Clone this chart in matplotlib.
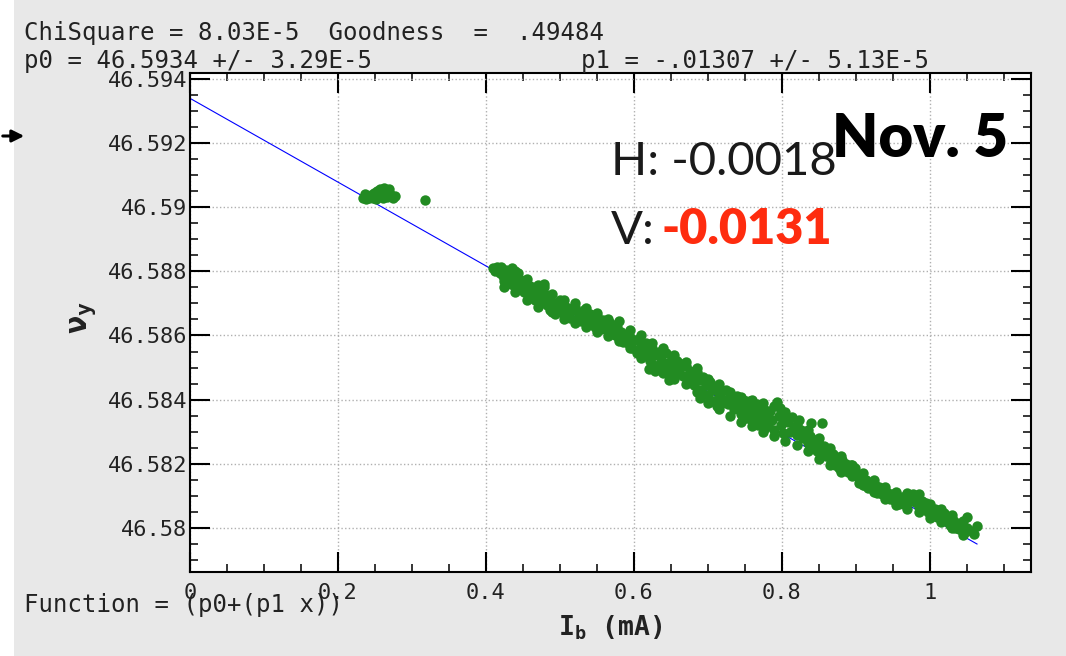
import numpy as np
import matplotlib.pyplot as plt
from matplotlib.ticker import MultipleLocator, FuncFormatter
from matplotlib.patches import Rectangle, FancyArrowPatch

plt.rcParams['font.family'] = ['DejaVu Sans Mono']
plt.rcParams['mathtext.fontset'] = 'custom'
plt.rcParams['mathtext.rm'] = 'DejaVu Sans Mono:bold'
plt.rcParams['mathtext.it'] = 'DejaVu Sans Mono:bold'
plt.rcParams['mathtext.bf'] = 'DejaVu Sans Mono:bold'

W, H = 1066, 656

# fit result  nu = p0 + p1*I
p0 = 46.5934
p1 = -0.01307
fit_start, fit_end = 0.0, 1.064

# low current cluster + one stray point
cluster_i = [0.234, 0.236, 0.238, 0.240, 0.242, 0.245, 0.247, 0.249, 0.251, 0.253,
             0.255, 0.257, 0.259, 0.261, 0.262, 0.263, 0.265, 0.267, 0.269, 0.271,
             0.274, 0.277, 0.318]
cluster_nu = [46.59030, 46.59040, 46.59025, 46.59035, 46.59028, 46.59038, 46.59030, 46.59045, 46.59026, 46.59050,
              46.59035, 46.59058, 46.59042, 46.59028, 46.59060, 46.59055, 46.59047, 46.59032, 46.59058, 46.59040,
              46.59030, 46.59036, 46.59022]

band_i = [
    0.410, 0.413, 0.416, 0.419, 0.421, 0.423, 0.425, 0.427, 0.429, 0.431, 0.433, 0.435, 0.437, 0.439, 0.441, 0.443, 0.445, 0.447,
    0.450, 0.452, 0.454, 0.456, 0.458, 0.460, 0.462, 0.464, 0.466, 0.468, 0.470, 0.472, 0.474, 0.476, 0.479, 0.481, 0.483, 0.485,
    0.487, 0.489, 0.492, 0.494, 0.496, 0.498, 0.500,
    0.502, 0.505, 0.508, 0.511, 0.514, 0.517, 0.520, 0.523, 0.526, 0.529, 0.532, 0.535, 0.538, 0.541, 0.544, 0.547, 0.550,
    0.553, 0.556, 0.559, 0.562, 0.565, 0.568, 0.571, 0.574, 0.577, 0.580, 0.583, 0.586,
    0.589, 0.592, 0.595, 0.598, 0.601, 0.604, 0.607, 0.610, 0.613, 0.616, 0.619, 0.621, 0.622, 0.625, 0.627,
    0.628, 0.631, 0.634, 0.637, 0.640, 0.643, 0.646, 0.648, 0.649, 0.655,
    0.652, 0.656, 0.658, 0.661, 0.664, 0.667, 0.670, 0.673, 0.676, 0.679, 0.682, 0.685, 0.688, 0.689, 0.691,
    0.694, 0.697, 0.700, 0.701, 0.703, 0.706, 0.709,
    0.712, 0.713, 0.715, 0.718, 0.719, 0.721, 0.724, 0.727, 0.730, 0.733, 0.736, 0.739, 0.742, 0.745, 0.748,
    0.751, 0.754, 0.757, 0.760, 0.763, 0.766, 0.769, 0.772, 0.775, 0.778, 0.781,
    0.744, 0.747, 0.752, 0.756, 0.759, 0.762, 0.765, 0.768, 0.771, 0.774, 0.777, 0.780,
    0.784, 0.787, 0.790, 0.794, 0.796, 0.799, 0.802, 0.805, 0.808, 0.811, 0.814, 0.817, 0.820, 0.823, 0.826, 0.829,
    0.797, 0.800, 0.840, 0.854,
    0.832, 0.835, 0.838, 0.842, 0.845, 0.848, 0.851, 0.854, 0.857, 0.860, 0.863, 0.866, 0.869, 0.872, 0.875,
    0.878, 0.881, 0.884, 0.887, 0.890, 0.893, 0.896, 0.899,
    0.902, 0.905, 0.908, 0.911, 0.914, 0.917, 0.920, 0.923, 0.926, 0.929, 0.932, 0.935, 0.938, 0.941, 0.944,
    0.947, 0.950, 0.953, 0.956, 0.959,
    0.962, 0.965, 0.968, 0.971, 0.974, 0.977, 0.980, 0.983, 0.986, 0.989, 0.992, 0.995, 0.998, 1.001, 1.004,
    1.007, 1.010, 1.013, 1.016, 1.019, 1.022, 1.025, 1.028, 1.031, 1.034, 1.037, 1.040, 1.043, 1.046, 1.050,
    1.051, 1.056, 1.060, 1.064,
]
band_nu = [
    46.58812, 46.58800, 46.58808, 46.58795, 46.58815, 46.58785, 46.58770, 46.58805, 46.58760, 46.58790, 46.58775, 46.58810, 46.58758, 46.58780, 46.58765, 46.58795, 46.58748, 46.58772,
    46.58760, 46.58735, 46.58768, 46.58745, 46.58720, 46.58755, 46.58728, 46.58740, 46.58710, 46.58750, 46.58722, 46.58700, 46.58735, 46.58712, 46.58752, 46.58725, 46.58695, 46.58715,
    46.58680, 46.58705, 46.58690, 46.58668, 46.58700, 46.58680, 46.58710,
    46.58672, 46.58695, 46.58660, 46.58685, 46.58655, 46.58678, 46.58690, 46.58650, 46.58670, 46.58645, 46.58680, 46.58660, 46.58640, 46.58668, 46.58650, 46.58628, 46.58660,
    46.58640, 46.58620, 46.58648, 46.58630, 46.58612, 46.58638, 46.58618, 46.58600, 46.58628, 46.58590, 46.58612, 46.58580,
    46.58600, 46.58575, 46.58595, 46.58560, 46.58585, 46.58545, 46.58590, 46.58565, 46.58535, 46.58575, 46.58550, 46.58495, 46.58520, 46.58560, 46.58540,
    46.58490, 46.58505, 46.58550, 46.58525, 46.58495, 46.58545, 46.58515, 46.58460, 46.58485, 46.58470,
    46.58530, 46.58500, 46.58520, 46.58490, 46.58510, 46.58475, 46.58505, 46.58455, 46.58490, 46.58470, 46.58445, 46.58485, 46.58460, 46.58406, 46.58430,
    46.58470, 46.58445, 46.58415, 46.58392, 46.58455, 46.58430, 46.58395,
    46.58380, 46.58440, 46.58410, 46.58425, 46.58388, 46.58400, 46.58430, 46.58385, 46.58415, 46.58395, 46.58370, 46.58410, 46.58385, 46.58355, 46.58400,
    46.58375, 46.58345, 46.58395, 46.58365, 46.58340, 46.58385, 46.58355, 46.58330, 46.58375, 46.58350, 46.58320,
    46.58380, 46.58340, 46.58395, 46.58365, 46.58335, 46.58380, 46.58350, 46.58320, 46.58370, 46.58345, 46.58310, 46.58365,
    46.58365, 46.58335, 46.58305, 46.58394, 46.58350, 46.58320, 46.58295, 46.58360, 46.58330, 46.58300, 46.58345, 46.58315, 46.58290, 46.58335, 46.58305, 46.58280,
    46.58375, 46.58355, 46.58328, 46.58328,
    46.58300, 46.58265, 46.58285, 46.58250, 46.58275, 46.58240, 46.58262, 46.58232, 46.58255, 46.58225, 46.58245, 46.58205, 46.58230, 46.58195, 46.58215,
    46.58185, 46.58210, 46.58190, 46.58200, 46.58175, 46.58195, 46.58170, 46.58185,
    46.58160, 46.58140, 46.58155, 46.58135, 46.58150, 46.58125, 46.58140, 46.58120, 46.58135, 46.58110, 46.58128, 46.58105, 46.58120, 46.58095, 46.58110,
    46.58090, 46.58105, 46.58085, 46.58100, 46.58075,
    46.58095, 46.58075, 46.58072, 46.58100, 46.58085, 46.58105, 46.58080, 46.58098, 46.58065, 46.58085, 46.58060, 46.58078, 46.58050, 46.58065, 46.58040,
    46.58058, 46.58035, 46.58050, 46.58030, 46.58045, 46.58020, 46.58035, 46.58010, 46.58025, 46.58000, 46.58015, 46.57995, 46.58008, 46.57985, 46.58000,
    46.58034, 46.57990, 46.57980, 46.58006,
]

# points along the upper and lower rim of the band
upper_i = [0.415, 0.440, 0.455, 0.470, 0.479, 0.490, 0.505, 0.520, 0.535, 0.550, 0.565, 0.580, 0.595,
           0.610, 0.625, 0.640, 0.655, 0.670, 0.685, 0.700, 0.715, 0.730, 0.745, 0.760, 0.775, 0.790,
           0.805, 0.820, 0.835, 0.850, 0.865, 0.880, 0.895, 0.910, 0.925, 0.940, 0.955, 0.970, 0.985,
           1.000, 1.015, 1.030, 1.045]
upper_nu = [46.58815, 46.58800, 46.58775, 46.58758, 46.58760, 46.58728, 46.58712, 46.58700, 46.58685, 46.58670, 46.58652, 46.58645, 46.58618,
            46.58600, 46.58578, 46.58560, 46.58540, 46.58518, 46.58498, 46.58465, 46.58448, 46.58425, 46.58408, 46.58400, 46.58390, 46.58380,
            46.58335, 46.58320, 46.58305, 46.58280, 46.58250, 46.58225, 46.58195, 46.58170, 46.58150, 46.58128, 46.58112, 46.58108, 46.58105,
            46.58075, 46.58060, 46.58040, 46.58020]
lower_i = [0.424, 0.440, 0.455, 0.470, 0.490, 0.505, 0.520, 0.535, 0.550, 0.565, 0.580, 0.595,
           0.610, 0.625, 0.640, 0.655, 0.670, 0.685, 0.700, 0.715, 0.730, 0.745, 0.760, 0.775, 0.790,
           0.805, 0.820, 0.835, 0.850, 0.865, 0.880, 0.895, 0.910, 0.925, 0.940, 0.955, 0.970, 0.985,
           1.000, 1.015, 1.030, 1.045]
lower_nu = [46.58752, 46.58735, 46.58712, 46.58690, 46.58672, 46.58650, 46.58640, 46.58628, 46.58612, 46.58598, 46.58582, 46.58560,
            46.58530, 46.58510, 46.58482, 46.58465, 46.58448, 46.58425, 46.58388, 46.58372, 46.58350, 46.58330, 46.58318, 46.58300, 46.58285,
            46.58270, 46.58258, 46.58240, 46.58215, 46.58195, 46.58175, 46.58160, 46.58135, 46.58112, 46.58090, 46.58072, 46.58060, 46.58048,
            46.58030, 46.58018, 46.57998, 46.57978]

x_ticks = [0, 0.2, 0.4, 0.6, 0.8, 1.0]
y_ticks = [46.58, 46.582, 46.584, 46.586, 46.588, 46.59, 46.592, 46.594]


def fx(px):
    return px / W


def fy(py):
    return 1 - py / H


fig = plt.figure(figsize=(W / 100, H / 100), dpi=100, facecolor='#e8e8e8')
fig.patches.append(Rectangle((0, 0), fx(14), 1, transform=fig.transFigure,
                             facecolor='white', edgecolor='none', zorder=0))

ax = fig.add_axes([fx(190), fy(572), fx(1031) - fx(190), fy(73) - fy(572)])
ax.set_facecolor('white')

green = '#228b22'
xf = np.array([fit_start, fit_end])
ax.plot(xf, p0 + p1 * xf, color='blue', lw=0.8, zorder=2)
for xs, ys in [(cluster_i, cluster_nu), (band_i, band_nu), (upper_i, upper_nu), (lower_i, lower_nu)]:
    ax.plot(xs, ys, 'o', color=green, ms=7.5, mew=0, zorder=3)

ax.set_xlim(0, 1.137)
ax.set_ylim(46.57862, 46.59419)
ax.set_xticks(x_ticks)
ax.set_yticks(y_ticks)
ax.xaxis.set_minor_locator(MultipleLocator(0.05))
ax.yaxis.set_minor_locator(MultipleLocator(0.0005))
ax.xaxis.set_major_formatter(FuncFormatter(lambda v, p: f'{v:g}'))
ax.yaxis.set_major_formatter(FuncFormatter(lambda v, p: f'{v:.3f}'.rstrip('0')))

ax.grid(True, which='major', linestyle=':', color='#b0b0b0', lw=1)
ax.set_axisbelow(True)
ax.tick_params(which='major', direction='in', length=14.5, width=1.5,
               top=True, right=True, labelsize=15.8, colors='black', labelcolor='#222222')
ax.tick_params(which='minor', direction='in', length=5.5, width=1.1, top=True, right=True)
ax.tick_params(axis='y', pad=2)
ax.tick_params(axis='x', pad=8)
for s in ax.spines.values():
    s.set_linewidth(1.5)

# fit info text
mono = dict(family='DejaVu Sans Mono', size=17.3, color='#222222', va='baseline')
fig.text(fx(24), fy(40), 'ChiSquare = 8.03E-5  Goodness  =  .49484', **mono)
fig.text(fx(24), fy(68), 'p0 = 46.5934 +/- 3.29E-5', **mono)
fig.text(fx(581), fy(68), 'p1 = -.01307 +/- 5.13E-5', **mono)
fig.text(fx(24), fy(612), 'Function = (p0+(p1 x))', **mono)

fig.text(fx(610), fy(635), r'$\mathrm{I_b}$ (mA)', ha='center', va='baseline',
         size=19, weight='bold', color='#222222')
fig.text(fx(83), fy(318), r'$\nu_y$', ha='center', va='center', rotation=90,
         size=22, color='#222222')

# slide annotations
fig.text(fx(832), fy(157), 'Nov. 5', family='Lato', weight='heavy', size=43, color='black')
fig.text(fx(611), fy(175), 'H: -0.0018', family='Lato', weight='normal', size=34, color='#1a1a1a')
fig.text(fx(611), fy(244), 'V:', family='Lato', weight='normal', size=34, color='#1a1a1a')
fig.text(fx(662), fy(244), '-0.0131', family='Lato', weight='heavy', size=35, color='#fe2c0f')

fig.patches.append(FancyArrowPatch((0, fy(136)), (fx(27), fy(136)), transform=fig.transFigure,
                                   arrowstyle='-|>', mutation_scale=18, lw=2.2, color='black'))

fig.savefig('out.png', dpi=100, facecolor=fig.get_facecolor())
